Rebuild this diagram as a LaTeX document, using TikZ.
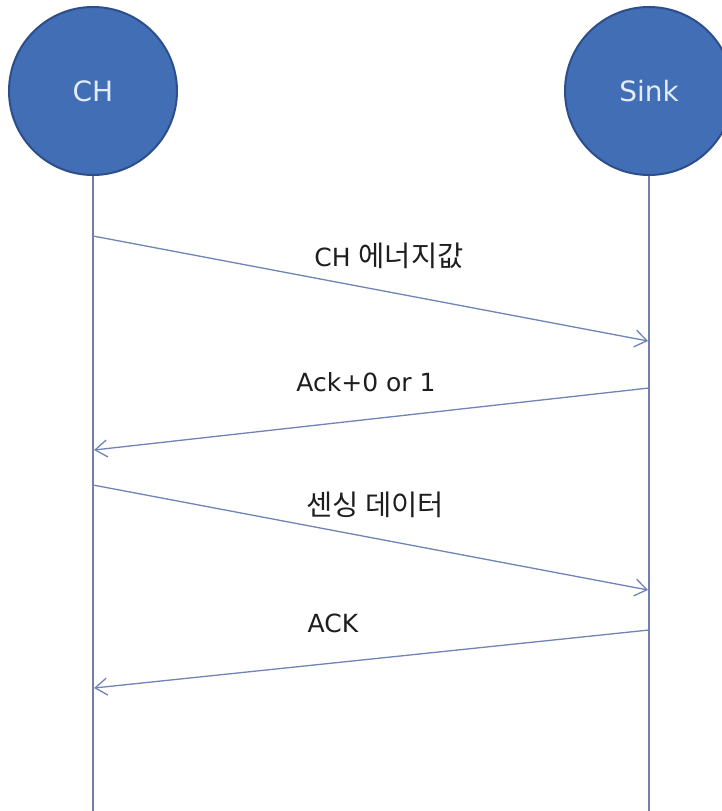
\documentclass[tikz,border=0pt]{standalone}
\usepackage{fontspec}
\setmainfont{DejaVu Sans}
\newfontfamily\krfont{Noto Sans CJK KR}
\usetikzlibrary{arrows.meta}
\definecolor{circfill}{RGB}{66,110,182}
\definecolor{circdraw}{RGB}{44,78,138}
\definecolor{circtext}{RGB}{226,236,250}
\definecolor{lifecol}{RGB}{112,128,168}
\definecolor{msgcol}{RGB}{112,132,184}
\definecolor{txtcol}{RGB}{30,30,30}
\tikzset{
  actor/.style={circle, fill=circfill, draw=circdraw, line width=2pt, minimum size=168pt, inner sep=0pt,
    text=circtext, font=\fontsize{28}{30}\selectfont},
  lifeline/.style={draw=lifecol, line width=1.4pt},
  msg/.style={draw=msgcol, line width=1.3pt, -{Straight Barb[length=12pt,width=17pt,line width=1.3pt]}},
  msglabel/.style={text=txtcol, inner sep=0pt, font=\fontsize{25}{27}\selectfont},
  kr/.style={font=\krfont\fontsize{28.5}{30}\selectfont},
}
\begin{document}
\begin{tikzpicture}[x=1pt,y=-1pt]
\useasboundingbox (0,0) rectangle (722,811);
\clip (0,0) rectangle (722,811);
\fill[white] (0,0) rectangle (722,811);
% actors
\node[actor] (ch) at (93,91) {CH};
\node[actor] (sink) at (649,91) {Sink};
% lifeline ends
\coordinate (chend) at (93,811);
\coordinate (sinkend) at (649,811);
\draw[lifeline] (ch.south) -- (chend);
\draw[lifeline] (sink.south) -- (sinkend);
% message points
\coordinate (m1s) at (93,236);
\coordinate (m1e) at (648,341);
\coordinate (m2s) at (649,388);
\coordinate (m2e) at (94,450);
\coordinate (m3s) at (93,485);
\coordinate (m3e) at (648,590);
\coordinate (m4s) at (649,630);
\coordinate (m4e) at (94,688);
\draw[msg] (m1s) -- (m1e);
\draw[msg] (m2s) -- (m2e);
\draw[msg] (m3s) -- (m3e);
\draw[msg] (m4s) -- (m4e);
% labels
\node[msglabel] (l1) at (389,256) {CH {\krfont\fontsize{28.5}{30}\selectfont 에너지값}};
\node[msglabel] (l2) at (366,382) {Ack+0 or 1};
\node[msglabel, kr] (l3) at (375,505) {센싱 데이터};
\node[msglabel] (l4) at (333,623) {ACK};
\end{tikzpicture}
\end{document}
